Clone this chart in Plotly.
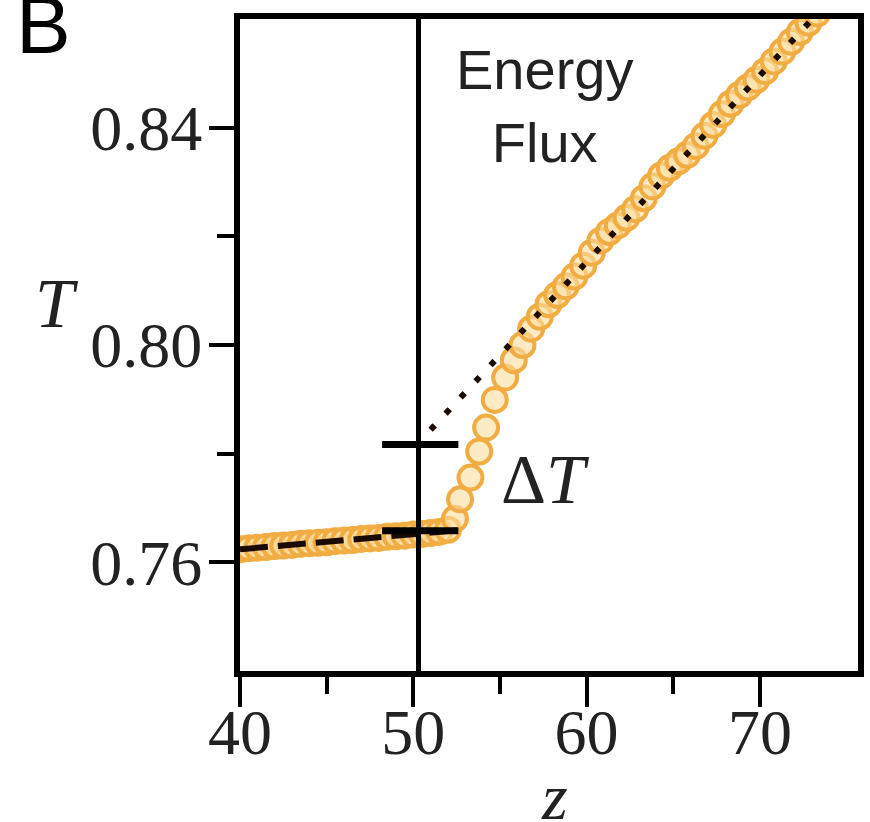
import plotly.graph_objects as go

# ---- data ----
z_data = [40.0, 40.5, 41.0, 41.5, 42.0, 42.5, 43.0, 43.5, 44.0, 44.5, 45.0, 45.5,
          46.0, 46.5, 47.0, 47.5, 48.0, 48.5, 49.0, 49.5, 50.0, 50.5, 51.0, 51.5,
          52.0, 52.4, 52.7, 53.3, 53.8, 54.2, 54.7, 55.3, 55.8, 56.3, 56.8, 57.3,
          57.8, 58.3, 58.8, 59.3, 59.8, 60.3, 60.8, 61.3, 61.8, 62.3, 62.8, 63.3,
          63.8, 64.3, 64.8, 65.3, 65.8, 66.3, 66.8, 67.3, 67.8, 68.3, 68.8, 69.3,
          69.8, 70.3, 70.8, 71.3, 71.8, 72.3, 72.8, 73.3, 73.8]
T_data = [0.7624, 0.7626, 0.7627, 0.7628, 0.7630, 0.7631, 0.7632, 0.7634, 0.7635,
          0.7636, 0.7637, 0.7639, 0.7640, 0.7641, 0.7643, 0.7644, 0.7645, 0.7647,
          0.7648, 0.7649, 0.7651, 0.7652, 0.7654, 0.7656, 0.7660, 0.7680, 0.7716,
          0.7756, 0.7804, 0.7848, 0.7899, 0.7940, 0.7972, 0.8000, 0.8030, 0.8052,
          0.8075, 0.8092, 0.8108, 0.8126, 0.8146, 0.8170, 0.8192, 0.8208, 0.8220,
          0.8234, 0.8250, 0.8270, 0.8292, 0.8312, 0.8326, 0.8338, 0.8350, 0.8366,
          0.8385, 0.8405, 0.8425, 0.8444, 0.8460, 0.8474, 0.8488, 0.8504, 0.8522,
          0.8540, 0.8558, 0.8576, 0.8593, 0.8610, 0.8627]

# linear fit below the interface (dashed)
fit_low_z = [40.0, 52.6]
fit_low_T = [0.7624, 0.7659]
# linear fit above the interface (dotted)
fit_high_z = [51.0, 76.0]
fit_high_T = [0.7844, 0.8702]
# Delta T markers
bar_z = [48.2, 52.6]
bar_upper_T = 0.7817
bar_lower_T = 0.7658
# interface position
interface_z = 50.3

x_range = [40, 75.66]
y_range = [0.74, 0.86]
x_ticks = [40, 50, 60, 70]
x_minor = [45, 55, 65]
y_ticks = [0.76, 0.80, 0.84]
y_tick_labels = ["0.76", "0.80", "0.84"]
y_minor = [0.78, 0.82]

fig = go.Figure()

fig.add_trace(go.Scatter(
    x=z_data, y=T_data, mode="markers",
    marker=dict(symbol="circle", size=24, color="rgba(252,222,160,0.6)",
                line=dict(color="#F1AC42", width=4)),
    showlegend=False, hoverinfo="skip"))

fig.add_trace(go.Scatter(
    x=fit_low_z, y=fit_low_T, mode="lines",
    line=dict(color="#1a0a00", width=6, dash="28px,10px"),
    showlegend=False, hoverinfo="skip"))

fig.add_trace(go.Scatter(
    x=fit_high_z, y=fit_high_T, mode="lines",
    line=dict(color="#1a0a00", width=6, dash="6px,16px"),
    showlegend=False, hoverinfo="skip"))

fig.add_trace(go.Scatter(
    x=bar_z, y=[bar_upper_T, bar_upper_T], mode="lines",
    line=dict(color="black", width=7),
    showlegend=False, hoverinfo="skip"))
fig.add_trace(go.Scatter(
    x=bar_z, y=[bar_lower_T, bar_lower_T], mode="lines",
    line=dict(color="black", width=7),
    showlegend=False, hoverinfo="skip"))

fig.add_trace(go.Scatter(
    x=[interface_z, interface_z], y=y_range, mode="lines",
    line=dict(color="black", width=5),
    showlegend=False, hoverinfo="skip"))

serif = "Liberation Serif"
sans = "Liberation Sans"

fig.update_layout(
    width=870, height=822,
    margin=dict(l=240, r=6, t=19, b=151),
    paper_bgcolor="white", plot_bgcolor="white",
    xaxis=dict(range=x_range, showgrid=False, zeroline=False,
               showline=True, linecolor="black", linewidth=6, mirror=True,
               ticks="outside", ticklen=30, tickwidth=4, tickcolor="black",
               tickvals=x_ticks, ticktext=[str(v) for v in x_ticks],
               ticklabelstandoff=-30,
               minor=dict(tickvals=x_minor, ticks="outside", ticklen=17,
                          tickwidth=4, tickcolor="black"),
               tickfont=dict(family=serif, size=64, color="#222")),
    yaxis=dict(range=y_range, showgrid=False, zeroline=False,
               showline=True, linecolor="black", linewidth=6, mirror=True,
               ticks="outside", ticklen=25, tickwidth=4, tickcolor="black",
               tickvals=y_ticks, ticktext=y_tick_labels,
               ticklabelstandoff=-6,
               minor=dict(tickvals=y_minor, ticks="outside", ticklen=17,
                          tickwidth=4, tickcolor="black"),
               tickfont=dict(family=serif, size=64, color="#222")),
    annotations=[
        dict(text="B", xref="paper", yref="paper", x=-0.365, y=0.991,
             xanchor="left", yanchor="middle", showarrow=False,
             font=dict(family=sans, size=82, color="black")),
        dict(text="Energy<br>Flux", xref="paper", yref="paper", x=0.492, y=0.8669,
             xanchor="center", yanchor="middle", showarrow=False,
             font=dict(family=sans, size=56, color="#222")),
        dict(text="Δ<i>T</i>", xref="x", yref="y", x=57.6, y=0.7752,
             xanchor="center", yanchor="middle", showarrow=False,
             font=dict(family=serif, size=70, color="#222")),
        dict(text="<i>T</i>", xref="paper", yref="paper", x=-0.2955, y=0.563,
             xanchor="center", yanchor="middle", showarrow=False,
             font=dict(family=serif, size=70, color="#222")),
        dict(text="<i>z</i>", xref="paper", yref="paper", x=0.5088, y=-0.193,
             xanchor="center", yanchor="middle", showarrow=False,
             font=dict(family=serif, size=66, color="#222")),
    ],
)

fig.write_html(
    "out.html",
    config={"displayModeBar": False},
    post_script="document.body.style.margin='0px';"
                "document.body.style.overflow='hidden';",
)
